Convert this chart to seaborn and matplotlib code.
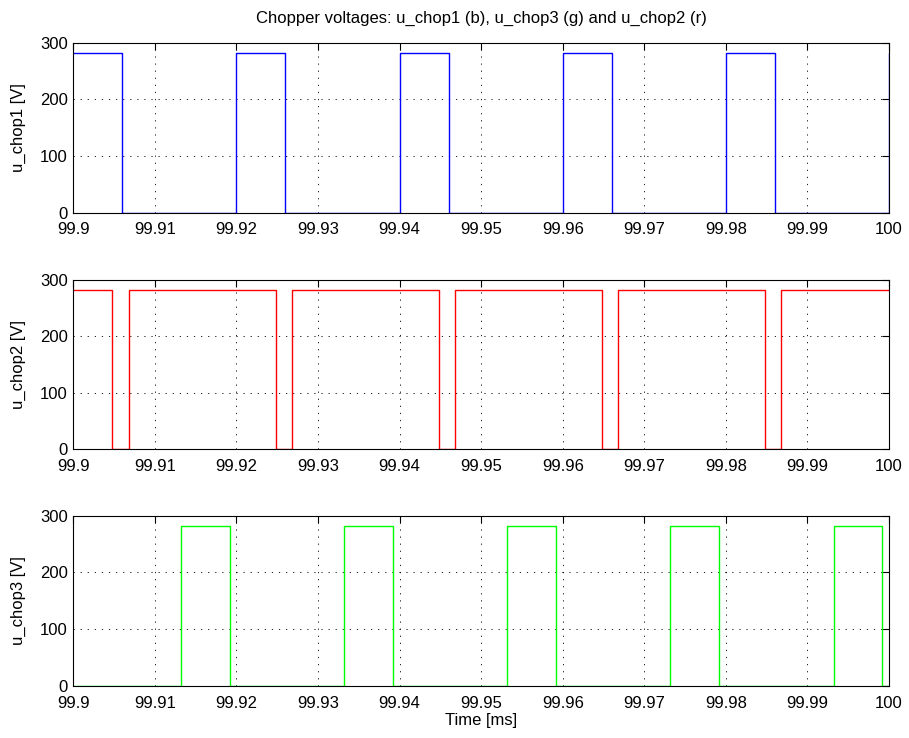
import pandas as pd
import matplotlib.pyplot as plt
import seaborn as sns

# --- Data: switching instants [ms] and chopper voltage levels [V] ---
t_chop1 = [99.9, 99.906, 99.92, 99.926, 99.94, 99.946, 99.96, 99.966, 99.98, 99.986, 100.0]
u_chop1 = [282, 0, 282, 0, 282, 0, 282, 0, 282, 0, 282]

t_chop2 = [99.9, 99.9048, 99.9068, 99.9248, 99.9268, 99.9448, 99.9468,
           99.9648, 99.9668, 99.9848, 99.9868, 100.0]
u_chop2 = [282, 0, 282, 0, 282, 0, 282, 0, 282, 0, 282, 282]

t_chop3 = [99.9, 99.9132, 99.9192, 99.9332, 99.9392, 99.9532, 99.9592,
           99.9732, 99.9792, 99.9932, 99.9992, 100.0]
u_chop3 = [0, 282, 0, 282, 0, 282, 0, 282, 0, 282, 0, 0]

x_ticks = [99.9, 99.91, 99.92, 99.93, 99.94, 99.95, 99.96, 99.97, 99.98, 99.99, 100]
x_labels = ['99.9', '99.91', '99.92', '99.93', '99.94', '99.95', '99.96',
            '99.97', '99.98', '99.99', '100']
y_ticks = [0, 100, 200, 300]

sns.set_style('white')
plt.rcParams['font.family'] = ['Liberation Sans', 'DejaVu Sans']
plt.rcParams['font.size'] = 12
plt.rcParams['text.color'] = 'black'
plt.rcParams['axes.labelcolor'] = 'black'

fig = plt.figure(figsize=(9.09, 7.38), dpi=100)

panels = [
    (t_chop1, u_chop1, '#0000ff', 'u_chop1 [V]', [0.0806, 0.7118, 0.8974, 0.2304]),
    (t_chop2, u_chop2, '#ff0000', 'u_chop2 [V]', [0.0806, 0.3916, 0.8974, 0.2294]),
    (t_chop3, u_chop3, '#00ff00', 'u_chop3 [V]', [0.0806, 0.0705, 0.8974, 0.2308]),
]

axes = []
for t, u, color, ylab, rect in panels:
    ax = fig.add_axes(rect)
    df = pd.DataFrame({'t': t, 'u': u})
    sns.lineplot(data=df, x='t', y='u', ax=ax, color=color, linewidth=1.0,
                 drawstyle='steps-post', estimator=None, sort=False)
    ax.set_xlim(99.9, 100)
    ax.set_ylim(0, 300)
    ax.set_xticks(x_ticks)
    ax.set_xticklabels(x_labels)
    ax.set_yticks(y_ticks)
    ax.grid(True, color='black', linewidth=0.6, linestyle=(0, (1.5, 7)))
    ax.tick_params(direction='in', length=5, width=0.8, top=True, right=True,
                   labelsize=12, colors='black')
    ax.tick_params(axis='x', pad=7)
    ax.tick_params(axis='y', pad=4)
    for s in ax.spines.values():
        s.set_color('black')
        s.set_linewidth(0.8)
        s.set_visible(True)
    ax.set_ylabel(ylab, fontsize=12, labelpad=10)
    ax.set_xlabel('')
    axes.append(ax)

axes[0].set_title('Chopper voltages: u_chop1 (b), u_chop3 (g) and u_chop2 (r)',
                  fontsize=12, pad=14)
axes[2].set_xlabel('Time [ms]', fontsize=12, labelpad=2)

fig.savefig('out.png', dpi=100)
